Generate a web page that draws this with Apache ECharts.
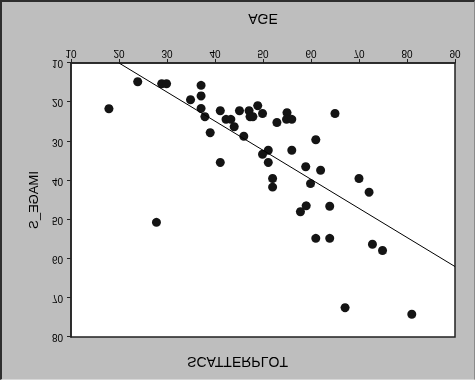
<!DOCTYPE html>
<html>
<head>
<meta charset="utf-8">
<script src="https://cdn.jsdelivr.net/npm/echarts@6/dist/echarts.min.js"></script>
<style>
  html, body { margin: 0; padding: 0; background: #bebebe; }
  #wrap { position: relative; width: 475px; height: 380px; overflow: hidden; }
  #chart { position: absolute; left: 0; top: 0; width: 475px; height: 380px; transform: scaleY(-1); }
  #frame { position: absolute; left: 0; top: 0; width: 475px; height: 380px; box-sizing: border-box;
           border-left: 2px solid #2e2e2e; border-top: 2px solid #2e2e2e;
           border-right: 1px solid #8a8a8a; border-bottom: 1px solid #d8d8d8; pointer-events: none; }
</style>
</head>
<body>
<div id="wrap"><div id="chart"></div><div id="frame"></div></div>
<script>
// Data (AGE vs IMAGE_S)
const age = [17.9, 23.9, 28.9, 29.9, 37.1, 37.1, 34.9, 37.1, 37.9, 39.0,
             41.1, 41.1, 42.3, 43.3, 44.0, 45.1, 46.0, 47.1, 47.3, 47.9,
             48.9, 49.9, 52.9, 55.0, 54.9, 56.0, 65.0, 61.0, 51.1, 49.9,
             56.0, 51.1, 58.9, 62.0, 52.0, 52.0, 59.9, 70.0, 72.1, 27.8,
             59.0, 57.8, 63.9, 61.0, 63.9, 72.8, 74.9, 67.1, 81.0];
const imageS = [21.7, 14.8, 15.3, 15.3, 15.7, 18.4, 19.4, 21.6, 23.7, 27.8,
                22.2, 35.4, 24.4, 24.4, 26.3, 22.2, 28.7, 22.2, 23.7, 23.7,
                20.9, 22.9, 25.2, 22.7, 24.4, 24.4, 22.9, 29.6, 32.3, 33.3,
                32.3, 35.4, 36.5, 37.4, 39.5, 41.7, 40.8, 39.5, 43.0, 50.7,
                46.5, 48.0, 46.6, 54.8, 54.8, 56.3, 57.9, 72.5, 74.2];
// Fitted line end points
const fitX = [20, 90];
const fitY = [10, 62];
const xTicks = { min: 10, max: 90, step: 10 };
const yTicks = { min: 10, max: 80, step: 10 };
const titleText = 'SCATTERPLOT';
const xName = 'AGE';
const yName = 'IMAGE_S';

const FONT = '"Liberation Sans", Arial, sans-serif';
const chart = echarts.init(document.getElementById('chart'));
chart.setOption({
  backgroundColor: 'transparent',
  animation: false,
  title: {
    text: titleText, left: 'center', top: 7,
    textStyle: { fontFamily: FONT, fontSize: 14, fontWeight: 'normal', color: '#000' }
  },
  grid: {
    left: 71, right: 20, top: 43, bottom: 63, show: true,
    backgroundColor: '#ffffff', borderColor: '#222', borderWidth: 1.5
  },
  xAxis: {
    type: 'value', min: xTicks.min, max: xTicks.max, interval: xTicks.step,
    name: xName, nameLocation: 'middle', nameGap: 38,
    nameTextStyle: { fontFamily: FONT, fontSize: 14, color: '#000' },
    axisLine: { lineStyle: { color: '#222', width: 1.5 } },
    axisTick: { show: true, length: 4, lineStyle: { color: '#222' } },
    axisLabel: { fontFamily: FONT, fontSize: 10, color: '#000', margin: 5 },
    splitLine: { show: false }
  },
  yAxis: {
    type: 'value', min: yTicks.min, max: yTicks.max, interval: yTicks.step,
    name: yName, nameLocation: 'middle', nameGap: 28, nameRotate: 90,
    nameTextStyle: { fontFamily: FONT, fontSize: 13, color: '#000' },
    axisLine: { show: true, lineStyle: { color: '#222', width: 1.5 } },
    axisTick: { show: true, length: 4, lineStyle: { color: '#222' } },
    axisLabel: { fontFamily: FONT, fontSize: 10, color: '#000', margin: 8 },
    splitLine: { show: false }
  },
  series: [
    {
      type: 'scatter', symbol: 'circle', symbolSize: 9,
      itemStyle: { color: '#141414', opacity: 1 },
      data: age.map((a, i) => [a, imageS[i]])
    },
    {
      type: 'line', symbol: 'none', clip: true,
      lineStyle: { color: '#000', width: 1 },
      data: fitX.map((x, i) => [x, fitY[i]])
    }
  ]
});
</script>
</body>
</html>
